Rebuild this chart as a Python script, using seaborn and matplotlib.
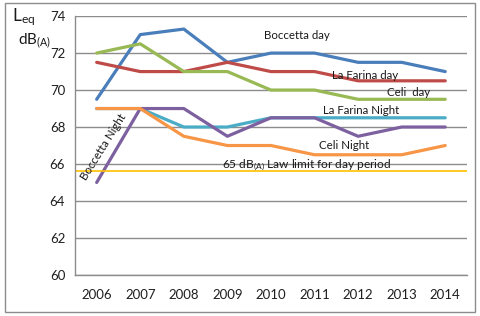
import matplotlib
matplotlib.use("Agg")
import matplotlib.pyplot as plt
import seaborn as sns
import pandas as pd
from matplotlib.patches import Rectangle

# Data
years = ["2006", "2007", "2008", "2009", "2010", "2011", "2012", "2013", "2014"]
boccetta_day = [69.5, 73.0, 73.3, 71.5, 72.0, 72.0, 71.5, 71.5, 71.0]
la_farina_day = [71.5, 71.0, 71.0, 71.5, 71.0, 71.0, 70.5, 70.5, 70.5]
celi_day = [72.0, 72.5, 71.0, 71.0, 70.0, 70.0, 69.5, 69.5, 69.5]
la_farina_night = [69.0, 69.0, 68.0, 68.0, 68.5, 68.5, 68.5, 68.5, 68.5]
boccetta_night = [65.0, 69.0, 69.0, 67.5, 68.5, 68.5, 67.5, 68.0, 68.0]
celi_night = [69.0, 69.0, 67.5, 67.0, 67.0, 66.5, 66.5, 66.5, 67.0]
law_limit = 65.6

series = {
    "Boccetta day": boccetta_day,
    "La Farina day": la_farina_day,
    "Celi  day": celi_day,
    "La Farina Night": la_farina_night,
    "Boccetta Night": boccetta_night,
    "Celi Night": celi_night,
}
colors = ["#4a7ebb", "#be4b48", "#98b954", "#4bacc6", "#7d60a0", "#f79646"]

df = pd.concat(
    [pd.DataFrame({"year": years, "Leq": v, "site": k}) for k, v in series.items()],
    ignore_index=True,
)

sns.set_theme(style="white")
plt.rcParams["font.family"] = ["Lato", "DejaVu Sans"]
plt.rcParams["mathtext.fontset"] = "custom"
plt.rcParams["mathtext.rm"] = "Lato"
plt.rcParams["mathtext.it"] = "Lato"
plt.rcParams["mathtext.bf"] = "Lato:bold"

fig = plt.figure(figsize=(4.8, 3.16), dpi=100)
ax = fig.add_axes([0.156, 0.130, 0.817, 0.819])

ax.set_ylim(60, 74)
ax.set_yticks(range(60, 75, 2))
ax.grid(axis="y", color="#8c8c8c", lw=1.0)
ax.set_axisbelow(True)

sns.lineplot(data=df, x="year", y="Leq", hue="site", hue_order=list(series),
             palette=colors, lw=2.3, sort=False, legend=False, ax=ax)

ax.axhline(law_limit, color="#ffc000", lw=1.2)

ax.set_xlim(-0.5, len(years) - 0.5)
ax.set_xticks(range(len(years)))
ax.set_xticklabels(years)
ax.set_xticks([i - 0.5 for i in range(len(years) + 1)], minor=True)
ax.tick_params(axis="x", which="major", length=0, pad=10, labelsize=9.5, colors="#1f1f1f")
ax.tick_params(axis="x", which="minor", length=4, width=1, color="#8c8c8c", direction="out")
ax.tick_params(axis="y", length=4, width=1, color="#8c8c8c", labelsize=9.5, colors="#1f1f1f", pad=3)
ax.set_xlabel("")
ax.set_ylabel("")
for s in ["top", "right"]:
    ax.spines[s].set_visible(False)
for s in ["left", "bottom"]:
    ax.spines[s].set_color("#8c8c8c")
    ax.spines[s].set_linewidth(1)

# series labels
fs = 8.3
tc = "#1a1a1a"
ax.text(4.6, 72.95, "Boccetta day", fontsize=fs, ha="center", va="center", color=tc)
ax.text(6.17, 70.78, "La Farina day", fontsize=fs, ha="center", va="center", color=tc)
ax.text(7.16, 69.85, "Celi  day", fontsize=fs, ha="center", va="center", color=tc)
ax.text(6.08, 68.88, "La Farina Night", fontsize=fs, ha="center", va="center", color=tc)
ax.text(5.67, 66.98, "Celi Night", fontsize=fs, ha="center", va="center", color=tc)
ax.text(0.16, 66.9, "Boccetta Night", fontsize=fs, ha="center", va="center", rotation=58, color=tc)
ax.text(2.87, 65.95, r"65 dB$_{\mathrm{(A)}}$ Law limit for day period", fontsize=8.6,
        ha="left", va="center", color=tc)

# y unit label
fig.text(0.025, 0.945, r"L$_{\mathrm{eq}}$", fontsize=12.5, ha="left", va="center", color=tc)
fig.text(0.038, 0.872, r"dB$_{\mathrm{(A)}}$", fontsize=11, ha="left", va="center", color=tc)

# outer frame
fig.patches.append(Rectangle((0.01, 0.012), 0.98, 0.98, transform=fig.transFigure,
                             fill=False, edgecolor="#8c8c8c", lw=1))

fig.savefig("out.png", dpi=100)
